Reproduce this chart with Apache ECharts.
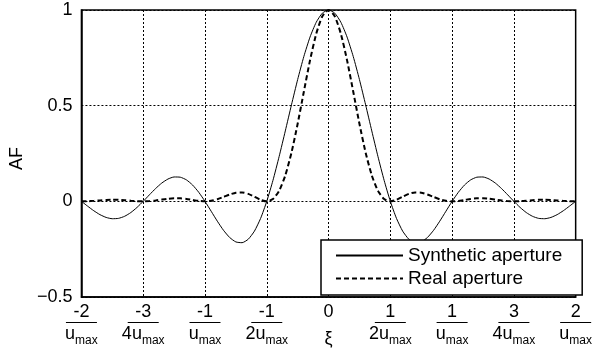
<!DOCTYPE html>
<html>
<head>
<meta charset="utf-8">
<script src="https://cdn.jsdelivr.net/npm/echarts@6/dist/echarts.min.js"></script>
<style>
html,body{margin:0;padding:0;background:#fff;}
#chart{width:595px;height:354px;}
</style>
</head>
<body>
<div id="chart"></div>
<script>
var xValues = [-2,-1.95,-1.9,-1.85,-1.8,-1.75,-1.7,-1.65,-1.6,-1.55,-1.5,-1.45,-1.4,-1.35,-1.3,-1.25,-1.2,-1.15,-1.1,-1.05,-1,-0.95,-0.9,-0.85,-0.8,-0.75,-0.7,-0.65,-0.6,-0.55,-0.5,-0.45,-0.4,-0.35,-0.3,-0.25,-0.2,-0.15,-0.1,-0.05,0,0.05,0.1,0.15,0.2,0.25,0.3,0.35,0.4,0.45,0.5,0.55,0.6,0.65,0.7,0.75,0.8,0.85,0.9,0.95,1,1.05,1.1,1.15,1.2,1.25,1.3,1.35,1.4,1.45,1.5,1.55,1.6,1.65,1.7,1.75,1.8,1.85,1.9,1.95,2];

var syntheticAF = [0,-0.0252,-0.0492,-0.0696,-0.0841,-0.0909,-0.0890,-0.0780,-0.0585,-0.0317,0,0.0339,0.0668,0.0954,0.1164,0.1273,0.1261,0.1120,0.0850,0.0468,0,-0.0518,-0.1039,-0.1515,-0.1892,-0.2122,-0.2162,-0.1981,-0.1559,-0.0894,0,0.1093,0.2339,0.3679,0.5046,0.6366,0.7568,0.8584,0.9355,0.9836,1,0.9836,0.9355,0.8584,0.7568,0.6366,0.5046,0.3679,0.2339,0.1093,0,-0.0894,-0.1559,-0.1981,-0.2162,-0.2122,-0.1892,-0.1515,-0.1039,-0.0518,0,0.0468,0.0850,0.1120,0.1261,0.1273,0.1164,0.0954,0.0668,0.0339,0,-0.0317,-0.0585,-0.0780,-0.0890,-0.0909,-0.0841,-0.0696,-0.0492,-0.0252,0];

var realAF = [0,0.0006,0.0024,0.0048,0.0071,0.0083,0.0079,0.0061,0.0034,0.0010,0,0.0011,0.0045,0.0091,0.0135,0.0162,0.0159,0.0125,0.0072,0.0022,0,0.0027,0.0108,0.0230,0.0358,0.0450,0.0467,0.0392,0.0243,0.0080,0,0.0119,0.0547,0.1353,0.2546,0.4053,0.5727,0.7369,0.8752,0.9675,1,0.9675,0.8752,0.7369,0.5727,0.4053,0.2546,0.1353,0.0547,0.0119,0,0.0080,0.0243,0.0392,0.0467,0.0450,0.0358,0.0230,0.0108,0.0027,0,0.0022,0.0072,0.0125,0.0159,0.0162,0.0135,0.0091,0.0045,0.0011,0,0.0010,0.0034,0.0061,0.0079,0.0083,0.0071,0.0048,0.0024,0.0006,0];

var tickNumerators = ['-2','-3','-1','-1','0','1','1','3','2'];
var tickDenomPrefix = ['','4','','2','','2','','4',''];
var seriesNames = ['Synthetic aperture','Real aperture'];

function pairs(ys){ return xValues.map(function(x,i){ return [x, ys[i]]; }); }

var FONT = '"Liberation Sans", Arial, sans-serif';
var chart = echarts.init(document.getElementById('chart'), null, {renderer:'canvas'});
chart.setOption({
  animation:false,
  backgroundColor:'#fff',
  textStyle:{fontFamily:FONT, color:'#000'},
  grid:{left:71, right:12, top:10, bottom:57, show:true, borderColor:'#000', borderWidth:1.5, backgroundColor:'transparent'},
  xAxis:{
    type:'value', min:-2, max:2, interval:0.5,
    axisLine:{show:true, onZero:false, lineStyle:{color:'#000', width:1.5}},
    axisTick:{show:false},
    splitLine:{show:true, lineStyle:{color:'#000', width:1, type:[2,2]}},
    axisLabel:{
      margin:7, color:'#000', fontFamily:FONT,
      formatter:function(v){
        var i = Math.round((v+2)/0.5);
        if (i === 4) return '{n|' + tickNumerators[i] + '}\n{nb|}\n{xi|ξ}';
        return '{n|' + tickNumerators[i] + '}\n{b|}\n{d|' + tickDenomPrefix[i] + 'u}{s|max}';
      },
      rich:{
        n:{fontSize:18, lineHeight:16, align:'center', fontFamily:FONT, color:'#000'},
        b:{width:31, height:1, lineHeight:5, backgroundColor:'#000', align:'center'},
        nb:{width:31, height:1, lineHeight:5, align:'center'},
        d:{fontSize:18, lineHeight:16, verticalAlign:'top', fontFamily:FONT, color:'#000'},
        s:{fontSize:12, lineHeight:12, verticalAlign:'top', padding:[10,0,0,0], fontFamily:FONT, color:'#000'},
        xi:{fontSize:18, lineHeight:20, verticalAlign:'top', padding:[5,0,0,0], fontFamily:FONT, color:'#000'}
      }
    }
  },
  yAxis:{
    type:'value', min:-0.5, max:1, interval:0.5,
    name:'AF', nameLocation:'middle', nameGap:44, nameRotate:90,
    nameTextStyle:{fontSize:18, color:'#000', fontFamily:FONT, padding:[0,10,0,0]},
    axisLine:{show:true, onZero:false, lineStyle:{color:'#000', width:1.5}},
    axisTick:{show:false},
    splitLine:{show:true, lineStyle:{color:'#000', width:1, type:[2,2]}},
    axisLabel:{
      margin:9, fontSize:18, color:'#000', fontFamily:FONT,
      formatter:function(v){ return String(v).replace('-', '\u2212'); }
    }
  },
  legend:{
    left:321, top:240, orient:'vertical',
    padding:[6, 20, 7, 14], itemGap:4, itemWidth:67, itemHeight:20,
    borderColor:'#000', borderWidth:1.5, backgroundColor:'#fff',
    itemStyle:{opacity:0},
    textStyle:{fontSize:19, color:'#000', fontFamily:FONT},
    data:seriesNames
  },
  series:[
    {name:seriesNames[0], type:'line', data:pairs(syntheticAF), symbol:'none', smooth:0.2,
     lineStyle:{color:'#000', width:1}, itemStyle:{color:'#000'}},
    {name:seriesNames[1], type:'line', data:pairs(realAF), symbol:'none', smooth:0.2,
     lineStyle:{color:'#000', width:2, type:[5,3]}, itemStyle:{color:'#000'}}
  ]
});
</script>
</body>
</html>
